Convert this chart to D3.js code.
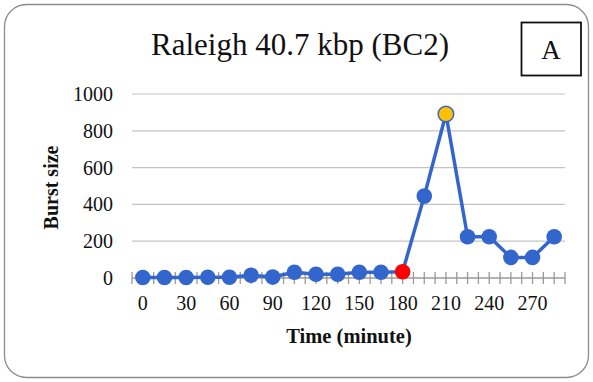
<!DOCTYPE html>
<html><head><meta charset="utf-8">
<script src="https://cdn.jsdelivr.net/npm/d3@7"></script>
<style>html,body{margin:0;padding:0;background:#fff;}svg{display:block;}</style>
</head><body>
<svg id="c" width="593" height="382"></svg>
<script>
const times = [0,15,30,45,60,75,90,105,120,135,150,165,180,195,210,225,240,255,270,285];
const burst = [3,3,3,4,4,15,5,31,20,20,31,31,34,445,891,224,224,112,112,224];
const yTicks = [0,200,400,600,800,1000];
const xLabels = [0,30,60,90,120,150,180,210,240,270];
const highlightRed = 180;
const highlightYellow = 210;
const title = "Raleigh 40.7 kbp (BC2)";
const panel = "A";

const svg = d3.select("#c");
const serif = "'Liberation Serif','Times New Roman',serif";

svg.append("rect").attr("x",4.5).attr("y",4.5).attr("width",584).attr("height",373)
  .attr("rx",22).attr("fill","#fff").attr("stroke","#8c8c8c").attr("stroke-width",1.3);

const L=132, R=565, T=94, B=278;
const x = d3.scaleBand().domain(times).range([L,R]).padding(0);
const y = d3.scaleLinear().domain([0,1000]).range([B,T]);

// gridlines
svg.append("g").selectAll("line").data(yTicks.filter(d=>d>0)).join("line")
  .attr("x1",L).attr("x2",R).attr("y1",d=>y(d)).attr("y2",d=>y(d))
  .attr("stroke","#c4c4c4").attr("stroke-width",1.2);

// y axis labels
svg.append("g").selectAll("text").data(yTicks).join("text")
  .attr("x",113).attr("y",d=>y(d)).attr("dy","0.35em").attr("text-anchor","end")
  .attr("font-family",serif).attr("font-size",20).attr("fill","#111").text(d=>d);

// x axis line and ticks
svg.append("line").attr("x1",L).attr("x2",R).attr("y1",B).attr("y2",B)
  .attr("stroke","#9a9a9a").attr("stroke-width",1.5);
const half = x.bandwidth()/2;
const tickPos = [];
times.forEach(t=>{tickPos.push(x(t)); tickPos.push(x(t)+half);});
tickPos.push(R);
svg.append("g").selectAll("line").data(tickPos).join("line")
  .attr("x1",d=>d).attr("x2",d=>d).attr("y1",B-6).attr("y2",B+6)
  .attr("stroke","#9a9a9a").attr("stroke-width",1.3);

svg.append("g").selectAll("text").data(xLabels).join("text")
  .attr("x",d=>x(d)+half).attr("y",310).attr("text-anchor","middle")
  .attr("font-family",serif).attr("font-size",20).attr("fill","#111").text(d=>d);

// line
const data = times.map((t,i)=>({t,v:burst[i]}));
svg.append("path").datum(data)
  .attr("d",d3.line().x(d=>x(d.t)+half).y(d=>y(d.v)))
  .attr("fill","none").attr("stroke","#3366cc").attr("stroke-width",3.5).attr("stroke-linejoin","round");

svg.append("g").selectAll("circle").data(data).join("circle")
  .attr("cx",d=>x(d.t)+half).attr("cy",d=>y(d.v)).attr("r",7.8)
  .attr("fill",d=>d.t===highlightRed?"#ff0000":d.t===highlightYellow?"#ffc000":"#3366cc")
  .attr("stroke",d=>d.t===highlightRed?"#ff0000":"#3366cc").attr("stroke-width",d=>d.t===highlightYellow?1.5:0);

// titles
svg.append("text").attr("x",300).attr("y",55).attr("text-anchor","middle")
  .attr("font-family",serif).attr("font-size",31).attr("fill","#111").text(title);
svg.append("rect").attr("x",521.5).attr("y",22.5).attr("width",59.5).attr("height",53)
  .attr("fill","#fff").attr("stroke","#111").attr("stroke-width",1.8);
svg.append("text").attr("x",551).attr("y",59).attr("text-anchor","middle")
  .attr("font-family",serif).attr("font-size",27).attr("fill","#111").text(panel);

svg.append("text").attr("x",349).attr("y",343).attr("text-anchor","middle")
  .attr("font-family",serif).attr("font-weight","bold").attr("font-size",20.5).attr("fill","#111").text("Time (minute)");
svg.append("text").attr("transform","translate(58,187.5) rotate(-90)").attr("text-anchor","middle")
  .attr("font-family",serif).attr("font-weight","bold").attr("font-size",20).attr("fill","#111").text("Burst size");
</script>
</body></html>
